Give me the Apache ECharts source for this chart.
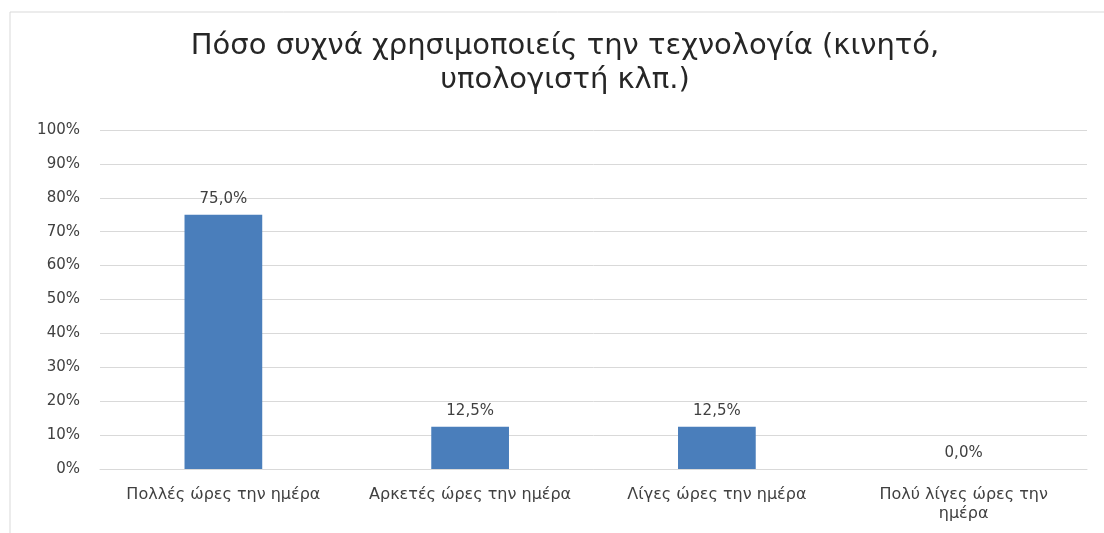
<!DOCTYPE html>
<html>
<head>
<meta charset="utf-8">
<script src="https://cdn.jsdelivr.net/npm/echarts@6/dist/echarts.min.js"></script>
<style>
html,body{margin:0;padding:0;background:#fff;}
#c{width:1104px;height:533px;}
</style>
</head>
<body>
<div id="c"></div>
<script>
var titleText = 'Πόσο συχνά χρησιμοποιείς την τεχνολογία (κινητό,\nυπολογιστή κλπ.)';
var categories = ['Πολλές ώρες την ημέρα', 'Αρκετές ώρες την ημέρα', 'Λίγες ώρες την ημέρα', 'Πολύ λίγες ώρες την\nημέρα'];
var values = [75.0, 12.5, 12.5, 0.0];
var yTicks = [0, 10, 20, 30, 40, 50, 60, 70, 80, 90, 100];

var chart = echarts.init(document.getElementById('c'), null, {renderer: 'canvas'});
var font = 'DejaVu Sans, Verdana, sans-serif';
chart.setOption({
  animation: false,
  graphic: [{
    type: 'rect',
    shape: {x: 10, y: 12, width: 1110, height: 540},
    style: {fill: 'none', stroke: '#d9d9d9', lineWidth: 1},
    silent: true
  }],
  title: {
    text: titleText,
    left: 560,
    textAlign: 'center',
    top: 24,
    textStyle: {fontFamily: font, fontSize: 29, fontWeight: 'normal', color: '#262626', lineHeight: 34}
  },
  grid: {left: 100, right: 17, top: 130, bottom: 64, containLabel: false},
  xAxis: {
    type: 'category',
    data: categories,
    axisLine: {show: true, lineStyle: {color: '#d9d9d9', width: 1}},
    axisTick: {show: false},
    axisLabel: {
      interval: 0,
      color: '#404040',
      fontFamily: font,
      fontSize: 16,
      margin: 16,
      overflow: 'none',
      hideOverlap: false,
      lineHeight: 19
    }
  },
  yAxis: {
    type: 'value',
    min: 0,
    max: 100,
    interval: 10,
    axisLine: {show: false},
    axisTick: {show: false},
    splitLine: {lineStyle: {color: '#d9d9d9', width: 1}},
    axisLabel: {
      color: '#404040',
      fontFamily: font,
      fontSize: 15,
      margin: 20,
      formatter: function (v) { return yTicks.indexOf(v) >= 0 ? v + '%' : ''; }
    }
  },
  series: [{
    type: 'bar',
    data: values,
    barWidth: '31.5%',
    itemStyle: {color: '#4a7ebb'},
    label: {
      show: true,
      position: 'top',
      distance: 8,
      color: '#404040',
      fontFamily: font,
      fontSize: 15,
      formatter: function (p) { return p.value.toFixed(1).replace('.', ',') + '%'; }
    }
  }]
});
</script>
</body>
</html>
